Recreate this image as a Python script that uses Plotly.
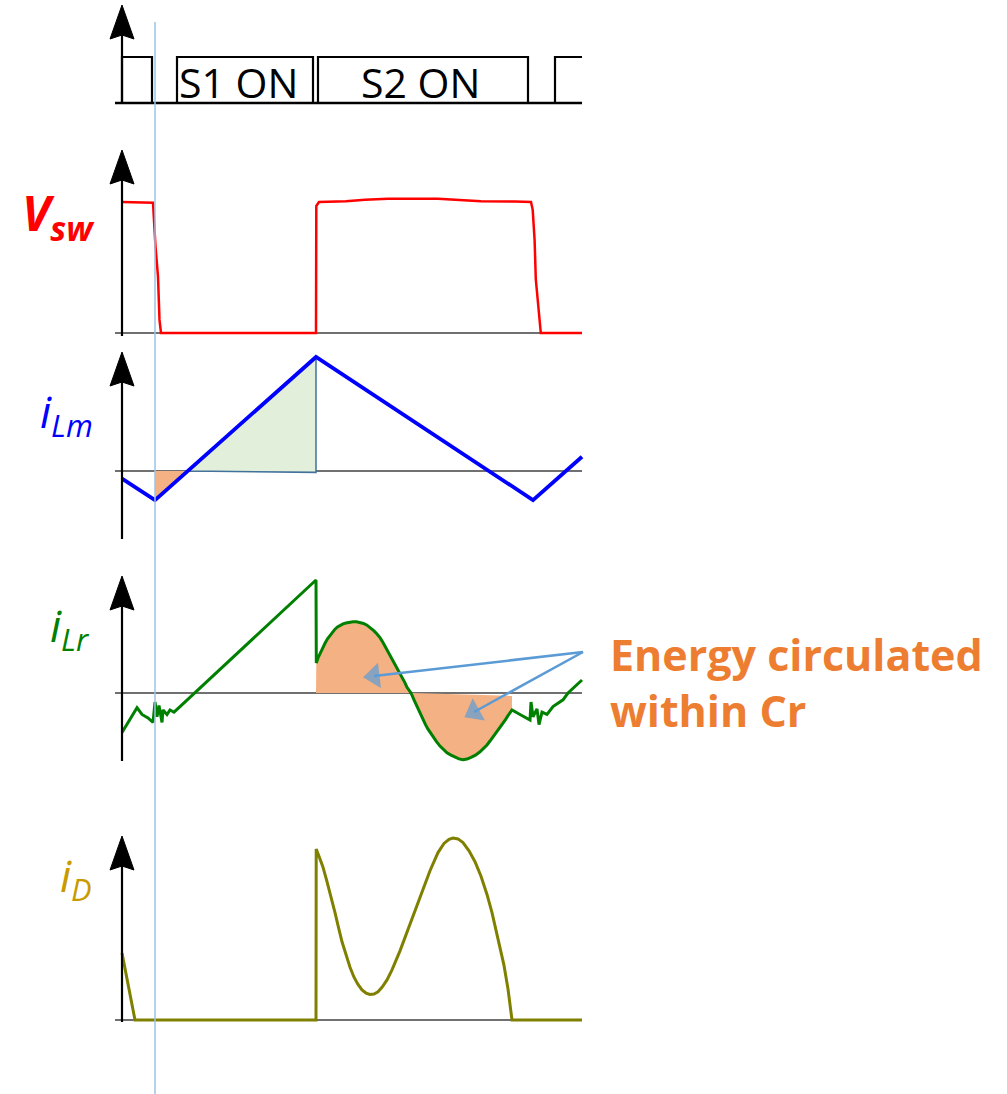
import plotly.graph_objects as go

W, H = 1007, 1094
FONT = "Open Sans"

# ---------------- data (time t in arbitrary units; t = 0 at the vertical axes) ----------------
# gate signals (1 = on)
gate_s2_t = [0, 0, 30, 30, None, 196, 196, 406, 406]
gate_s2_v = [0, 1, 1, 0, None, 0, 1, 1, 0]
gate_s1_t = [55, 55, 191, 191, None, 433, 433, 460]
gate_s1_v = [0, 1, 1, 0, None, 0, 1, 1]
gate_labels = ["S1 ON", "S2 ON"]
gate_label_t = [116, 298]
gate_label_v = [0.46, 0.46]

# switch-node voltage (normalised)
vsw_t = [0, 31, 33.5, 36, 37.5, 39, 194, 194.3, 197, 224, 243, 266, 316, 340, 359, 393, 409,
         410.7, 412.6, 413.8, 415.7, 417.2, 418.8, 460]
vsw_v = [1.0, 0.995, 0.66, 0.43, 0.1, 0, 0, 0.97, 1.0, 1.005, 1.018, 1.025, 1.025, 1.012, 1.005,
         1.003, 1.0, 0.94, 0.71, 0.41, 0.23, 0.106, 0, 0]

# magnetising current (normalised)
ilm_t = [0, 33, 194, 411, 460]
ilm_v = [-0.067, -0.255, 1.0, -0.255, 0.125]
ilm_pos_t = [67, 194, 194, 67]
ilm_pos_v = [0, 1.0, -0.012, 0]
ilm_neg_t = [33, 33, 67, 33]
ilm_neg_v = [0, -0.255, 0, 0]

# resonant current (normalised)
ilr_t = [0, 15, 20, 26, 31, 33, 35, 37, 40, 41, 45, 48, 52, 58, 194, 194.3, 196, 198, 200.5,
         203, 205.5, 208, 210.5, 213, 215.5, 218, 221, 224, 227.5, 231, 234.5, 238, 241.5,
         245, 248.5, 252, 255, 258, 261, 264, 267.5, 271, 273.5, 276, 278.5, 281, 283, 285,
         287, 289, 292, 295, 298, 301, 303.5, 306, 308.5, 311, 314.5, 318, 321.5, 325, 329,
         333, 337, 341, 345, 349, 353.5, 358, 361.5, 365, 368, 371, 373.5, 376, 378.5, 381,
         383.5, 386, 388, 390, 398, 408, 409, 411, 415, 417, 420, 425, 431, 441, 446, 460]
ilr_v = [-0.35, -0.13, -0.19, -0.22, -0.26, -0.08, -0.21, -0.11, -0.26, -0.15, -0.19, -0.15,
         -0.17, -0.12, 1.0, 0.265, 0.31, 0.35, 0.40, 0.44, 0.48, 0.51, 0.54, 0.565, 0.585, 0.6,
         0.612, 0.62, 0.627, 0.63, 0.63, 0.625, 0.615, 0.6, 0.578, 0.55, 0.522, 0.49, 0.447,
         0.4, 0.345, 0.29, 0.25, 0.21, 0.17, 0.13, 0.09, 0.05, 0.025, 0.0, -0.06, -0.12,
         -0.18, -0.24, -0.28, -0.32, -0.355, -0.39, -0.43, -0.47, -0.5, -0.53, -0.55, -0.57,
         -0.583, -0.59, -0.585, -0.57, -0.55, -0.52, -0.49, -0.46, -0.425, -0.39, -0.36,
         -0.33, -0.3, -0.27, -0.235, -0.2, -0.175, -0.15, -0.19, -0.24, -0.08, -0.21, -0.14,
         -0.28, -0.17, -0.19, -0.12, -0.06, 0.0, 0.115]
ilr_up_t = [194, 194.3, 198, 203, 208, 213, 218, 224, 231, 238, 245, 252, 258, 264, 271, 276,
            281, 285, 289, 194]
ilr_up_v = [0, 0.265, 0.35, 0.44, 0.51, 0.565, 0.6, 0.62, 0.63, 0.625, 0.6, 0.55, 0.49, 0.4,
            0.29, 0.21, 0.13, 0.05, 0, 0]
ilr_lo_t = [289, 390, 390, 386, 381, 376, 371, 365, 358, 349, 341, 333, 325, 318, 311, 306,
            301, 295, 289]
ilr_lo_v = [0, -0.025, -0.15, -0.2, -0.27, -0.33, -0.39, -0.46, -0.52, -0.57, -0.59, -0.57,
            -0.53, -0.47, -0.39, -0.32, -0.24, -0.12, 0]
arrow_tail = (461, 0.363)
arrow_heads_t = [252, 352]
arrow_heads_v = [0.15, -0.168]

# diode current (normalised)
id_t = [0, 13, 194, 194.2, 197, 201, 205, 209, 213, 216, 220, 224, 228, 232, 236, 240, 244,
        248, 252, 256, 260, 265, 270, 278, 286, 294, 301, 308, 316, 322, 327, 331, 336, 341,
        347, 353, 359, 365, 370, 376, 382, 386, 390, 460]
id_v = [0.368, 0, 0, 0.94, 0.9, 0.84, 0.76, 0.68, 0.59, 0.52, 0.43, 0.36, 0.29, 0.235, 0.195,
        0.165, 0.148, 0.14, 0.143, 0.155, 0.18, 0.22, 0.275, 0.38, 0.5, 0.62, 0.72, 0.82,
        0.92, 0.97, 0.993, 1.0, 0.995, 0.975, 0.93, 0.87, 0.79, 0.69, 0.59, 0.45, 0.3, 0.17,
        0.0, 0.0]

marker_t = 33   # vertical reference line

# ---------------- layout geometry (pixels) ----------------
T0_PX = 122
# axis: (zero line px, px per unit, arrow tip px, axis bottom px)
panels = {
    "y":  (103, 46, 5, 103),
    "y2": (333, 131, 150, 336),
    "y3": (471, 114, 352, 539),
    "y4": (693, 113, 576, 761),
    "y5": (1020, 182, 836, 1022),
}


def py(px):
    return 1 - px / H


fig = go.Figure()


def add_line(t, v, yax, color, width):
    fig.add_trace(go.Scatter(x=t, y=v, yaxis=yax, mode="lines",
                             line=dict(color=color, width=width), hoverinfo="skip",
                             showlegend=False))


def add_fill(t, v, yax, color, lcolor=None, lwidth=0):
    fig.add_trace(go.Scatter(x=t, y=v, yaxis=yax, mode="lines", fill="toself",
                             fillcolor=color,
                             line=dict(color=lcolor or color, width=lwidth),
                             hoverinfo="skip", showlegend=False))


# fills
add_fill(ilm_neg_t, ilm_neg_v, "y3", "#F4B183")
add_fill(ilm_pos_t, ilm_pos_v, "y3", "#E2EFDA", "#41719C", 1.5)
add_fill(ilr_up_t, ilr_up_v, "y4", "#F4B183")
add_fill(ilr_lo_t, ilr_lo_v, "y4", "#F4B183")

# signals
add_line(gate_s2_t, gate_s2_v, "y", "black", 2.2)
add_line(gate_s1_t, gate_s1_v, "y", "black", 2.2)
add_line(vsw_t, vsw_v, "y2", "#FF0000", 2.5)
add_line(ilm_t, ilm_v, "y3", "#0000FF", 3.8)
add_line(ilr_t, ilr_v, "y4", "#008000", 3)
add_line(id_t, id_v, "y5", "#808000", 3)

# callout arrows (line + oriented triangle head)
for ht, hv in zip(arrow_heads_t, arrow_heads_v):
    fig.add_trace(go.Scatter(
        x=[arrow_tail[0], ht], y=[arrow_tail[1], hv], yaxis="y4", mode="lines+markers",
        line=dict(color="#5B9BD5", width=2.5),
        marker=dict(symbol="triangle-up", size=[0, 22], angleref="previous",
                    color="#5B9BD5", line=dict(width=0)),
        hoverinfo="skip", showlegend=False))

shapes = []
for yax, (zero, unit, tip, bottom) in panels.items():
    # baseline
    shapes.append(dict(type="line", xref="x", yref=yax, x0=-7, x1=460, y0=0, y1=0,
                       line=dict(color="black" if yax == "y" else "#404040",
                                 width=2.5 if yax == "y" else 1.5), layer="below"))
    # vertical axis
    shapes.append(dict(type="line", xref="x", yref="paper", x0=0, x1=0,
                       y0=py(bottom), y1=py(tip + 30),
                       line=dict(color="black", width=2.2)))
    base = tip + 34
    path = (f"M -12 {py(base)} L 0 {py(tip)} L 12 {py(base)} L 0 {py(base - 4)} Z")
    shapes.append(dict(type="path", xref="x", yref="paper", path=path,
                       fillcolor="black", line=dict(color="black", width=1)))

shapes.append(dict(type="line", xref="x", yref="paper", x0=marker_t, x1=marker_t,
                   y0=0, y1=py(22), line=dict(color="#9DC3E6", width=1.5)))

annotations = []
for lab, t, v in zip(gate_labels, gate_label_t, gate_label_v):
    annotations.append(dict(x=t, y=v, xref="x", yref="y", text=lab, showarrow=False,
                            font=dict(family=FONT, size=41, color="black"),
                            xanchor="center", yanchor="middle"))

labels = [
    ("<b><i>V<sub>sw</sub></i></b>", 20, 216, 48, "#FF0000"),
    ("<i>i<sub>Lm</sub></i>", 38, 414, 44, "#0000FF"),
    ("<i>i<sub>Lr</sub></i>", 48, 627, 44, "#008000"),
    ("<i>i<sub>D</sub></i>", 58, 877, 44, "#C99A00"),
]
for txt, x, y, size, col in labels:
    annotations.append(dict(x=x / W, y=py(y), xref="paper", yref="paper", text=txt,
                            showarrow=False, xanchor="left", yanchor="middle",
                            font=dict(family=FONT, size=size, color=col)))

annotations.append(dict(x=608 / W, y=py(682), xref="paper", yref="paper",
                        text="<b>Energy circulated<br>within Cr</b>", showarrow=False,
                        xanchor="left", yanchor="middle", align="left",
                        font=dict(family=FONT, size=43, color="#ED7D31")))

layout_axes = {}
for yax, (zero, unit, tip, bottom) in panels.items():
    key = "yaxis" if yax == "y" else "yaxis" + yax[1:]
    ax = dict(domain=[0, 1], range=[(zero - H) / unit, zero / unit], visible=False,
              fixedrange=True)
    if yax != "y":
        ax["overlaying"] = "y"
    layout_axes[key] = ax

fig.update_layout(
    width=W, height=H, margin=dict(l=0, r=0, t=0, b=0),
    paper_bgcolor="white", plot_bgcolor="white",
    xaxis=dict(domain=[0, 1], range=[-T0_PX, W - T0_PX], visible=False, fixedrange=True),
    shapes=shapes, annotations=annotations, showlegend=False,
    **layout_axes,
)

fig.write_html("out.html")
